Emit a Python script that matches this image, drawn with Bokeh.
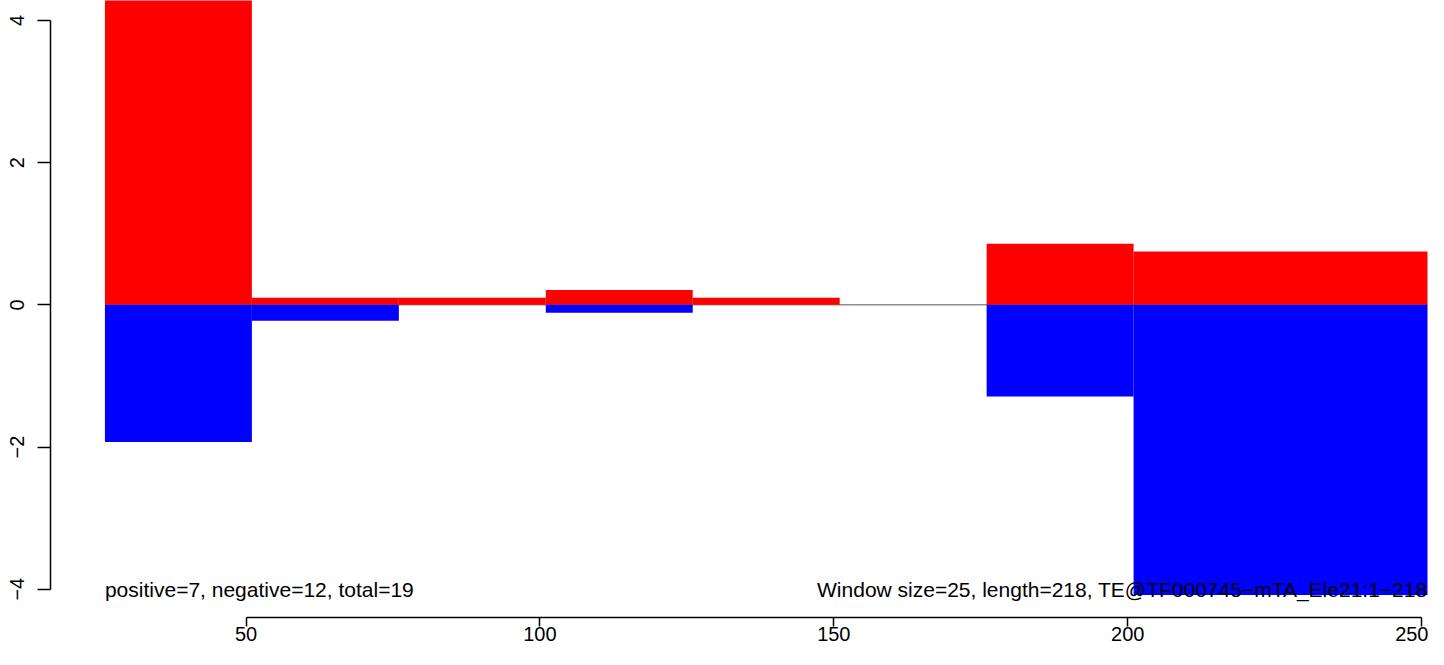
from bokeh.plotting import figure
from bokeh.models import Range1d, FixedTicker
from bokeh.core.properties import value
from bokeh.embed import file_html
from bokeh.resources import INLINE

# ---- data ----
win_edges = [26, 51, 76, 101, 126, 151, 176, 201, 251]
pos_vals = [4.6, 0.10, 0.10, 0.21, 0.10, 0.0, 0.86, 0.75]
neg_vals = [-1.93, -0.225, 0.0, -0.113, 0.0, 0.0, -1.29, -4.08]
x_ticks = [50, 100, 150, 200, 250]
y_ticks = [-4, -2, 0, 2, 4]
y_tick_labels = {-4: "\u22124", -2: "\u22122", 0: "0", 2: "2", 4: "4"}
left_note = "positive=7, negative=12, total=19"
right_note = "Window size=25, length=218, TE@TF000745\u2212mTA_Ele21:1\u2212218"
note_y = -4

win_start = win_edges[:-1]
win_end = win_edges[1:]

FONT = "Liberation Sans"

p = figure(width=1428, height=649, output_backend="svg", toolbar_location=None,
           x_range=Range1d(16.74, 251.17), y_range=Range1d(-4.398, 4.281),
           min_border_left=50, min_border_right=0, min_border_top=0,
           min_border_bottom=32)
p.outline_line_color = None
p.grid.visible = False
p.background_fill_color = "white"
p.border_fill_color = "white"

# x axis
xa = p.xaxis[0]
xa.ticker = FixedTicker(ticks=x_ticks)
xa.bounds = (x_ticks[0], x_ticks[-1])
xa.major_tick_out = 9
xa.major_tick_in = 0
xa.minor_tick_line_color = None
xa.axis_line_width = 1.5
xa.major_tick_line_width = 1.5
xa.axis_line_color = "black"
xa.major_tick_line_color = "black"
xa.major_label_text_font = FONT
xa.major_label_text_font_size = "20px"
xa.major_label_text_color = "black"
xa.major_label_standoff = 0

# y axis
ya = p.yaxis[0]
ya.ticker = FixedTicker(ticks=y_ticks)
ya.bounds = (y_ticks[0], y_ticks[-1])
ya.major_tick_out = 13
ya.major_tick_in = 0
ya.minor_tick_line_color = None
ya.axis_line_width = 1.5
ya.major_tick_line_width = 1.5
ya.axis_line_color = "black"
ya.major_tick_line_color = "black"
ya.major_label_text_font = FONT
ya.major_label_text_font_size = "20px"
ya.major_label_text_color = "black"
ya.major_label_orientation = "vertical"
ya.major_label_overrides = y_tick_labels
ya.major_label_standoff = 13

# zero line
p.line([win_edges[0], win_edges[-1]], [0, 0], line_color="#555555", line_width=1)

# bars
p.quad(left=win_start, right=win_end, bottom=0, top=pos_vals,
       fill_color="#FF0000", line_color=None)
p.quad(left=win_start, right=win_end, bottom=neg_vals, top=0,
       fill_color="#0000FF", line_color=None)

# notes
p.text(x=[win_edges[0]], y=[note_y], text=[left_note], text_align="left",
       text_baseline="middle", text_font=value(FONT), text_font_size="21px",
       text_color="black")
p.text(x=[win_edges[-1]], y=[note_y], text=[right_note], text_align="right",
       text_baseline="middle", text_font=value(FONT), text_font_size="21px",
       text_color="black")

open("out.html", "w").write(file_html(p, INLINE))
